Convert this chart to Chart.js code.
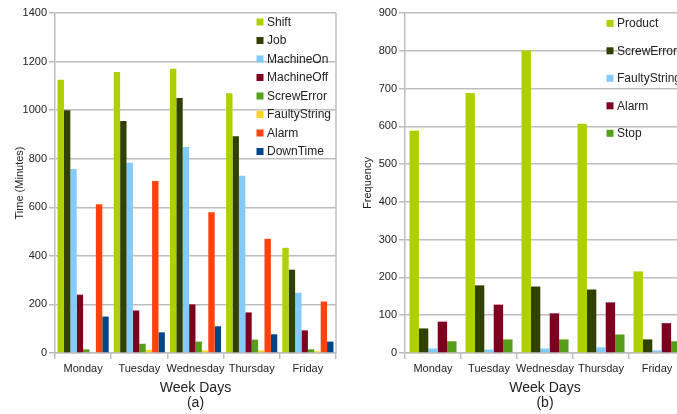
<!DOCTYPE html>
<html>
<head>
<meta charset="utf-8">
<script src="https://cdn.jsdelivr.net/npm/chart.js@4/dist/chart.umd.min.js"></script>
<style>
  html, body { margin: 0; padding: 0; background: #fff; overflow: hidden; width: 677px; height: 414px; }
  .box { position: absolute; top: 0; height: 414px; }
  #boxA { left: 0; width: 340px; }
  #boxB { left: 340px; width: 350px; }
</style>
</head>
<body>
<div class="box" id="boxA"><canvas id="chartA" width="340" height="414"></canvas></div>
<div class="box" id="boxB"><canvas id="chartB" width="350" height="414"></canvas></div>
<script>
// ---- Data ----
const days = ['Monday', 'Tuesday', 'Wednesday', 'Thursday', 'Friday'];

// Chart (a): Time (Minutes)
const seriesA = ['Shift', 'Job', 'MachineOn', 'MachineOff', 'ScrewError', 'FaultyString', 'Alarm', 'DownTime'];
const shift        = [1125, 1157, 1170, 1070, 433];
const job          = [1000, 955, 1050, 893, 343];
const machineOn    = [758, 783, 848, 730, 248];
const machineOff   = [240, 175, 200, 167, 93];
const screwErrorA  = [15, 38, 47, 55, 15];
const faultyStringA= [3, 13, 10, 10, 7];
const alarmA       = [613, 708, 580, 470, 212];
const downTime     = [150, 85, 110, 77, 47];
const ticksA = [0, 200, 400, 600, 800, 1000, 1200, 1400];

// Chart (b): Frequency
const seriesB = ['Product', 'ScrewError', 'FaultyString', 'Alarm', 'Stop'];
const product      = [588, 688, 800, 607, 216];
const screwErrorB  = [65, 179, 176, 168, 36];
const faultyStringB= [12, 9, 12, 15, 7];
const alarmB       = [83, 128, 105, 134, 79];
const stop         = [31, 36, 36, 49, 31];
const ticksB = [0, 100, 200, 300, 400, 500, 600, 700, 800, 900];

// ---- Styles ----
const colorsA = ['#aecf00', '#314004', '#83caff', '#7e0021', '#579d1c', '#ffd320', '#ff420e', '#004586'];
const colorsB = ['#aecf00', '#314004', '#83caff', '#7e0021', '#579d1c'];
const FONT = '"Liberation Sans", Arial, sans-serif';
const GRID = '#bdbdbd';
const TXT = '#222';

const insideLegend = {
  id: 'insideLegend',
  afterDraw(chart, args, opts) {
    const ctx = chart.ctx;
    ctx.save();
    ctx.font = '12px ' + FONT;
    ctx.textBaseline = 'middle';
    ctx.textAlign = 'left';
    chart.data.datasets.forEach((ds, i) => {
      const cy = opts.y + i * opts.gap;
      ctx.fillStyle = ds.backgroundColor;
      ctx.fillRect(opts.x, cy - 3.5, 7, 7);
      ctx.fillStyle = TXT;
      ctx.fillText(ds.label, opts.x + 10.5, cy + 0.5);
    });
    ctx.restore();
  }
};

const rightBorder = {
  id: 'rightBorder',
  beforeDatasetsDraw(chart, args, opts) {
    if (!opts.show) return;
    const {ctx, chartArea} = chart;
    ctx.save();
    ctx.strokeStyle = GRID;
    ctx.lineWidth = 1.5;
    ctx.beginPath();
    ctx.moveTo(chartArea.right, chartArea.top);
    ctx.lineTo(chartArea.right, chartArea.bottom);
    ctx.stroke();
    ctx.restore();
  }
};

function makeChart(id, labels, names, values, colors, tickVals, yTitle, xTitle, opt) {
  return new Chart(document.getElementById(id), {
    type: 'bar',
    data: {
      labels: labels,
      datasets: names.map((n, i) => ({
        label: n,
        data: values[i],
        backgroundColor: colors[i],
        borderWidth: 0,
        categoryPercentage: opt.catPct,
        barPercentage: 1.0
      }))
    },
    options: {
      responsive: false,
      animation: false,
      layout: { padding: { top: 13, right: opt.padRight, bottom: 0, left: 0 } },
      plugins: {
        legend: { display: false },
        tooltip: { enabled: false },
        insideLegend: opt.legend,
        rightBorder: { show: opt.border }
      },
      scales: {
        x: {
          grid: { display: true, offset: true, drawOnChartArea: false, drawTicks: true, tickLength: 6, color: GRID, lineWidth: 1.5 },
          border: { color: GRID, width: 1.5 },
          ticks: { font: { family: FONT, size: 11 }, color: TXT, padding: 3, maxRotation: 0, autoSkip: false },
          title: { display: true, text: xTitle, font: { family: FONT, size: 14, lineHeight: '15px' }, color: TXT, padding: { top: 0, bottom: 3 } },
          afterFit: (s) => { s.height = 61; }
        },
        y: {
          min: tickVals[0],
          max: tickVals[tickVals.length - 1],
          afterBuildTicks: (s) => { s.ticks = tickVals.map(v => ({ value: v })); },
          grid: { color: GRID, lineWidth: 1.5, drawTicks: true, tickLength: 6 },
          border: { color: GRID, width: 1.5 },
          ticks: { font: { family: FONT, size: 11 }, color: TXT, padding: 2, callback: (v) => String(v) },
          title: { display: true, text: yTitle, font: { family: FONT, size: 11 }, color: TXT, padding: { top: opt.yTitlePad, bottom: 0 } },
          afterFit: (s) => { s.width = opt.yWidth; }
        }
      }
    },
    plugins: [insideLegend, rightBorder]
  });
}

makeChart('chartA', days, seriesA,
  [shift, job, machineOn, machineOff, screwErrorA, faultyStringA, alarmA, downTime],
  colorsA, ticksA, 'Time (Minutes)', ['Week Days', '(a)'],
  { catPct: 0.91, padRight: 4, yWidth: 55, yTitlePad: 13.4, border: true,
    legend: { x: 256.5, y: 22, gap: 18.5 } });

makeChart('chartB', days, seriesB,
  [product, screwErrorB, faultyStringB, alarmB, stop],
  colorsB, ticksB, 'Frequency', ['Week Days', '(b)'],
  { catPct: 0.84, padRight: 5, yWidth: 65, yTitlePad: 21.4, border: false,
    legend: { x: 266.5, y: 23.3, gap: 27.5 } });
</script>
</body>
</html>
